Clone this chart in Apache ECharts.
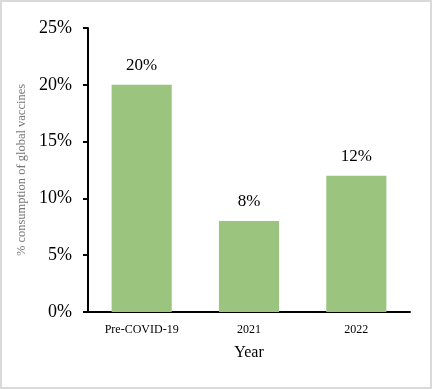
<!DOCTYPE html>
<html><head><meta charset="utf-8">
<script src="https://cdn.jsdelivr.net/npm/echarts@6/dist/echarts.min.js"></script>
<style>
html,body{margin:0;padding:0;background:#fff;}
#c{width:432px;height:389px;box-sizing:border-box;border:2px solid #d9d9d9;}
</style></head><body>
<div id="c"></div>
<script>
var categories = ["Pre-COVID-19", "2021", "2022"];
var values = [20, 8, 12];
var yTicks = [0, 5, 10, 15, 20, 25];

var chart = echarts.init(document.getElementById('c'));
var font = "'Liberation Serif','Times New Roman',serif";
chart.setOption({
  animation: false,
  grid: {left: 86, right: 20, top: 26, bottom: 75},
  xAxis: {
    type: 'category', data: categories,
    name: 'Year', nameLocation: 'middle', nameGap: 33,
    nameTextStyle: {fontFamily: font, fontSize: 16, color: '#000'},
    axisLine: {lineStyle: {color: '#000', width: 2}},
    axisTick: {show: false},
    axisLabel: {fontFamily: font, fontSize: 12, color: '#000', margin: 12}
  },
  yAxis: {
    type: 'value', min: yTicks[0], max: yTicks[yTicks.length-1], interval: 5,
    name: '% consumption of global vaccines', nameLocation: 'middle', nameGap: 60,
    nameTextStyle: {fontFamily: font, fontSize: 12.5, color: '#777'},
    axisLine: {show: true, lineStyle: {color: '#000', width: 2}},
    axisTick: {show: true, length: 5, lineStyle: {color: '#000', width: 2}},
    splitLine: {show: false},
    axisLabel: {fontFamily: font, fontSize: 18, color: '#000', margin: 16, formatter: '{value}%'}
  },
  series: [{
    type: 'bar', data: values, barWidth: '56%',
    itemStyle: {color: '#9BC47F'},
    label: {show: true, position: 'top', distance: 11, formatter: '{c}%', fontFamily: font, fontSize: 17, color: '#000'}
  }]
});
</script>
</body></html>
